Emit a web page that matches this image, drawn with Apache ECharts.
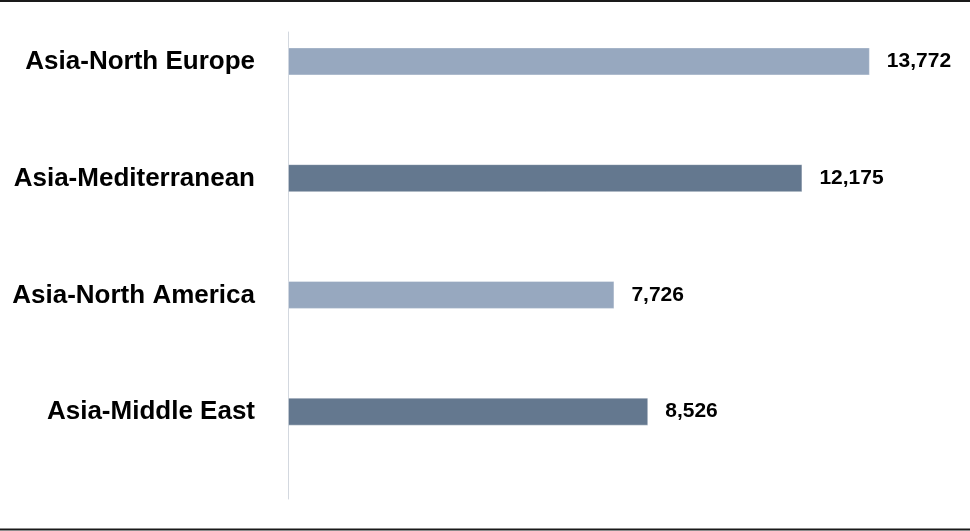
<!DOCTYPE html>
<html>
<head>
<meta charset="utf-8">
<script src="https://cdn.jsdelivr.net/npm/echarts@6/dist/echarts.min.js"></script>
<style>
html,body{margin:0;padding:0;background:#fff;}
#chart{width:970px;height:531px;}
</style>
</head>
<body>
<div id="chart"></div>
<script>
const categories = ['Asia-North Europe', 'Asia-Mediterranean', 'Asia-North America', 'Asia-Middle East'];
const values = [13772, 12175, 7726, 8526];
const barColors = ['#97A8BF', '#64788F', '#97A8BF', '#64788F'];

const chart = echarts.init(document.getElementById('chart'));
chart.setOption({
  animation: false,
  grid: { left: 288, top: 32, width: 676, height: 467, containLabel: false },
  xAxis: {
    type: 'value', min: 0, max: 16000,
    show: false
  },
  yAxis: {
    type: 'category',
    data: categories,
    inverse: true,
    axisLine: { show: true, lineStyle: { color: '#D3D8DF', width: 1 } },
    axisTick: { show: false },
    axisLabel: {
      margin: 33,
      lineHeight: 57,
      formatter: v => v + '\n ',
      fontFamily: 'Liberation Sans, Arial, sans-serif',
      fontWeight: 'bold',
      fontSize: 26,
      color: '#000'
    }
  },
  series: [{
    type: 'bar',
    barWidth: 28,
    barGap: '107%',
    data: values.map((v, i) => ({ value: v, itemStyle: { color: barColors[i], borderColor: 'rgba(255,255,255,0.35)', borderWidth: 1 } })),
    label: {
      show: true,
      position: 'right',
      distance: 17,
      fontFamily: 'Liberation Sans, Arial, sans-serif',
      fontWeight: 'bold',
      fontSize: 21,
      color: '#000',
      formatter: p => p.value.toLocaleString('en-US')
    }
  }, {
    type: 'bar',
    barWidth: 28,
    data: categories.map(() => null),
    silent: true
  }],
  graphic: [
    { type: 'line', shape: { x1: 0, y1: 1, x2: 970, y2: 1 }, style: { stroke: '#1a1a1a', lineWidth: 2 } },
    { type: 'line', shape: { x1: 0, y1: 529.5, x2: 970, y2: 529.5 }, style: { stroke: '#1a1a1a', lineWidth: 2 } }
  ]
});
</script>
</body>
</html>
